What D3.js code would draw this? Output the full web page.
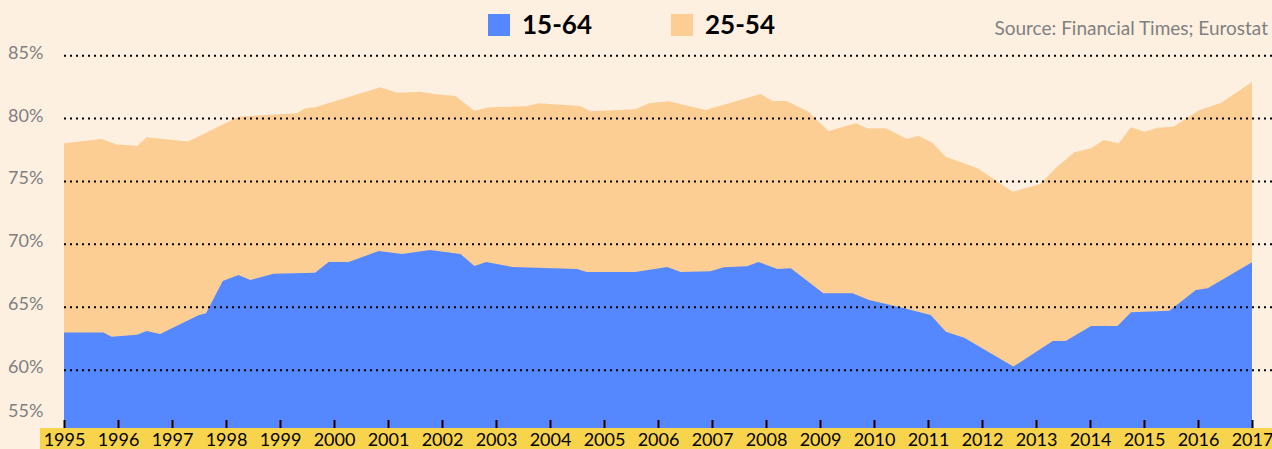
<!DOCTYPE html>
<html>
<head>
<meta charset="utf-8">
<script src="https://cdn.jsdelivr.net/npm/d3@7"></script>
<style>
  html, body { margin: 0; padding: 0; background: #fef0e1; }
  svg { display: block; }
</style>
</head>
<body>
<div id="chart"></div>
<script>
// employment rate, 15-64 age group (year as decimal, %)
const years15_64 = [1995.0, 1995.73, 1995.88, 1996.35, 1996.53, 1996.78, 1997.49, 1997.63, 1997.94, 1998.23,
  1998.45, 1998.88, 1999.65, 1999.90, 2000.27, 2000.83, 2001.26, 2001.78, 2002.34, 2002.60,
  2002.82, 2003.30, 2004.50, 2004.68, 2005.58, 2006.17, 2006.42, 2006.97, 2007.22, 2007.65,
  2007.86, 2008.21, 2008.46, 2009.06, 2009.60, 2009.91, 2010.56, 2011.05, 2011.33, 2011.67,
  2012.58, 2013.31, 2013.55, 2014.02, 2014.51, 2014.76, 2015.47, 2015.96, 2016.18, 2017.0];
const values15_64 = [63.0, 63.0, 62.66, 62.82, 63.12, 62.88, 64.36, 64.52, 67.09, 67.57,
  67.17, 67.67, 67.75, 68.6, 68.6, 69.47, 69.24, 69.56, 69.24, 68.28,
  68.6, 68.2, 68.04, 67.8, 67.8, 68.2, 67.8, 67.86, 68.18, 68.26,
  68.6, 68.04, 68.1, 66.11, 66.11, 65.58, 64.92, 64.39, 63.06, 62.58,
  60.28, 62.32, 62.32, 63.51, 63.51, 64.6, 64.73, 66.38, 66.51, 68.58];

// employment rate, 25-54 age group
const years25_54 = [1995.0, 1995.70, 1995.98, 1996.36, 1996.53, 1997.30, 1998.23, 1999.31, 1999.47, 1999.65,
  2000.86, 2001.17, 2001.60, 2001.85, 2002.25, 2002.60, 2002.88, 2003.56, 2003.79, 2004.56,
  2004.75, 2005.58, 2005.83, 2006.20, 2006.88, 2007.90, 2008.12, 2008.38, 2008.77, 2009.16,
  2009.66, 2009.88, 2010.22, 2010.61, 2010.82, 2011.08, 2011.33, 2011.92, 2012.57, 2013.08,
  2013.37, 2013.71, 2014.02, 2014.25, 2014.53, 2014.76, 2015.01, 2015.25, 2015.54, 2016.03,
  2016.43, 2017.0];
const values25_54 = [78.04, 78.38, 77.93, 77.85, 78.51, 78.17, 80.15, 80.42, 80.82, 80.9,
  82.49, 82.06, 82.14, 81.96, 81.8, 80.63, 80.9, 80.98, 81.22, 81.0,
  80.58, 80.74, 81.22, 81.38, 80.68, 81.96, 81.4, 81.4, 80.58, 79.01,
  79.63, 79.23, 79.23, 78.38, 78.64, 78.08, 76.97, 76.05, 74.19, 74.8,
  76.1, 77.32, 77.64, 78.3, 78.04, 79.31, 78.96, 79.28, 79.36, 80.68,
  81.26, 82.9];

const yearTicks = d3.range(1995, 2018);
const yTicks = [55, 60, 65, 70, 75, 80, 85];
const seriesNames = ["15-64", "25-54"];
const seriesColors = ["#5588ff", "#fdce94"];

const W = 1272, H = 449;
const margin = {top: 55.7, right: 20, bottom: 21, left: 64};
const plotBottom = H - margin.bottom; // 428

const svg = d3.select("#chart").append("svg")
  .attr("width", W)
  .attr("height", H);

svg.append("rect").attr("width", W).attr("height", H).attr("fill", "#fef0e1");

var x = d3.scaleLinear()
  .domain([1995, 2017])
  .range([margin.left, 1252]);

var y = d3.scaleLinear()
  .domain([55.4, 85])
  .range([plotBottom, margin.top]);

function toPoints(xs, vs) {
  return xs.map(function(d, i) { return {year: d, value: vs[i]}; });
}

var area = d3.area()
  .x(function(d) { return x(d.year); })
  .y0(plotBottom)
  .y1(function(d) { return y(d.value); });

// 25-54 behind, 15-64 on top
svg.append("path")
  .datum(toPoints(years25_54, values25_54))
  .attr("fill", seriesColors[1])
  .attr("d", area);

svg.append("path")
  .datum(toPoints(years15_64, values15_64))
  .attr("fill", seriesColors[0])
  .attr("d", area);

// dotted gridlines
svg.append("g")
  .selectAll("line")
  .data(yTicks.filter(function(d) { return d >= 60; }))
  .enter().append("line")
    .attr("x1", margin.left)
    .attr("x2", W)
    .attr("y1", function(d) { return y(d); })
    .attr("y2", function(d) { return y(d); })
    .attr("stroke", "#000")
    .attr("stroke-width", 2)
    .attr("stroke-dasharray", "2,4");

// y labels (55% sits just above the axis)
svg.append("g")
  .selectAll("text")
  .data(yTicks)
  .enter().append("text")
    .attr("x", 8)
    .attr("y", function(d) { return Math.min(y(d) + 3, plotBottom - 11); })
    .attr("font-family", "Lato, 'Open Sans', sans-serif")
    .attr("font-size", 18)
    .attr("fill", "#7f7f7f")
    .text(function(d) { return d + "%"; });

// yellow band behind year labels
svg.append("rect")
  .attr("x", 40)
  .attr("y", plotBottom)
  .attr("width", W - 40)
  .attr("height", H - plotBottom)
  .attr("fill", "#f8d34c");

// x axis
var xAxis = svg.append("g")
  .attr("transform", "translate(0," + plotBottom + ")")
  .call(d3.axisTop(x).tickValues(yearTicks).tickSize(8).tickFormat(d3.format("d")));
xAxis.select(".domain").remove();
xAxis.selectAll(".tick line").attr("stroke", "#000").attr("stroke-width", 2);
xAxis.selectAll(".tick text")
  .attr("y", 18)
  .attr("dy", 0)
  .attr("font-family", "Lato, 'Open Sans', sans-serif")
  .attr("font-size", 18)
  .attr("fill", "#000");

// legend
var legend = svg.append("g");
var legendX = [488, 671];
seriesNames.forEach(function(name, i) {
  legend.append("rect")
    .attr("x", legendX[i])
    .attr("y", 14)
    .attr("width", 22)
    .attr("height", 22)
    .attr("fill", seriesColors[i]);
  legend.append("text")
    .attr("x", legendX[i] + 34)
    .attr("y", 34)
    .attr("font-family", "Lato, 'Open Sans', sans-serif")
    .attr("font-weight", "bold")
    .attr("font-size", 26)
    .attr("fill", "#000")
    .text(name);
});

// source note
svg.append("text")
  .attr("x", 1268)
  .attr("y", 35)
  .attr("text-anchor", "end")
  .attr("font-family", "Lato, 'Open Sans', sans-serif")
  .attr("font-size", 19)
  .attr("fill", "#808080")
  .text("Source: Financial Times; Eurostat");
</script>
</body>
</html>
